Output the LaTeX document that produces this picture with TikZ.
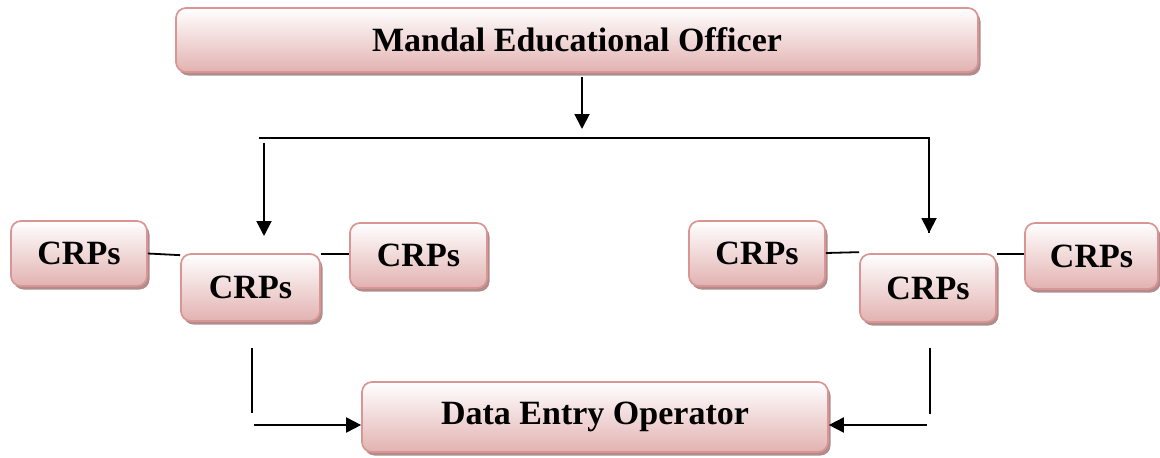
\documentclass[tikz,border=0pt]{standalone}
\usepackage{fontspec}
\setmainfont{Liberation Serif}
\usetikzlibrary{arrows.meta,shadows,calc}
\definecolor{boxedge}{HTML}{D99594}
\definecolor{boxlow}{HTML}{E2B2B1}
\definecolor{boxshadow}{HTML}{B08C8D}
\tikzset{
  pinkbox/.style={rectangle, rounded corners=10pt, draw=boxedge, line width=1.7pt,
    top color=white, bottom color=boxlow, shading angle=0,
    drop shadow={shadow xshift=2.5pt, shadow yshift=-3.5pt, fill=boxshadow, opacity=1},
    inner sep=0pt, font=\fontsize{34}{38}\selectfont\bfseries},
  conn/.style={line width=1.8pt, black},
  arr/.style={line width=1.9pt, black, -{Triangle[length=15pt,width=15pt]}},
}
\begin{document}
\begin{tikzpicture}[x=1pt,y=-1pt]
\path[use as bounding box, fill=white] (0,0) rectangle (1160,458);
% boxes
\node[pinkbox, minimum width=802pt, minimum height=64pt] (meo) at (577,40) {Mandal Educational Officer};
\node[pinkbox, minimum width=136pt, minimum height=65pt] (l1) at (79,253.5) {CRPs};
\node[pinkbox, minimum width=139pt, minimum height=67pt] (lm) at (250.5,287.5) {CRPs};
\node[pinkbox, minimum width=137pt, minimum height=65pt] (l2) at (418.5,255.5) {CRPs};
\node[pinkbox, minimum width=136pt, minimum height=65pt] (r1) at (757,253.5) {CRPs};
\node[pinkbox, minimum width=136pt, minimum height=68pt] (rm) at (928,288) {CRPs};
\node[pinkbox, minimum width=133pt, minimum height=66pt] (r2) at (1091.5,256) {CRPs};
\node[pinkbox, minimum width=466pt, minimum height=70pt] (de) at (595,417) {Data Entry Operator};
% free ends
\coordinate (t0) at (582,77);
\coordinate (t1) at (582,129);
\coordinate (hl) at (259,138);
\coordinate (hr) at (929,138);
\coordinate (rtip) at (929,233);
\coordinate (lv0) at (264,143);
\coordinate (ltip) at (264,236);
\coordinate (lb0) at (252,348);
\coordinate (lb1) at (252,413);
\coordinate (la0) at (254,425);
\coordinate (rb0) at (930,348);
\coordinate (rb1) at (930,414);
\coordinate (ra0) at (927,425);
% connectors
\draw[arr] (t0) -- (t1);
\draw[conn] (hl) -- (hr) -- (rtip);
\draw[arr] (hr) -- (rtip);
\draw[arr] (lv0) -- (ltip);
\draw[conn] (l1.east) -- ($(lm.north west)+(0,2)$);
\draw[conn] ($(lm.north east)+(0,1)$) -- ($(l2.north west)+(0,32)$);
\draw[conn] ($(r1.east)+(0,-0.5)$) -- ($(rm.north west)+(0,-1)$);
\draw[conn] ($(rm.north east)+(0,1)$) -- ($(r2.north west)+(0,32)$);
\draw[conn] (lb0) -- (lb1);
\draw[arr] (la0) -- ($(de.west)+(0,8)$);
\draw[conn] (rb0) -- (rb1);
\draw[arr] (ra0) -- ($(de.east)+(0,8)$);
\end{tikzpicture}
\end{document}
